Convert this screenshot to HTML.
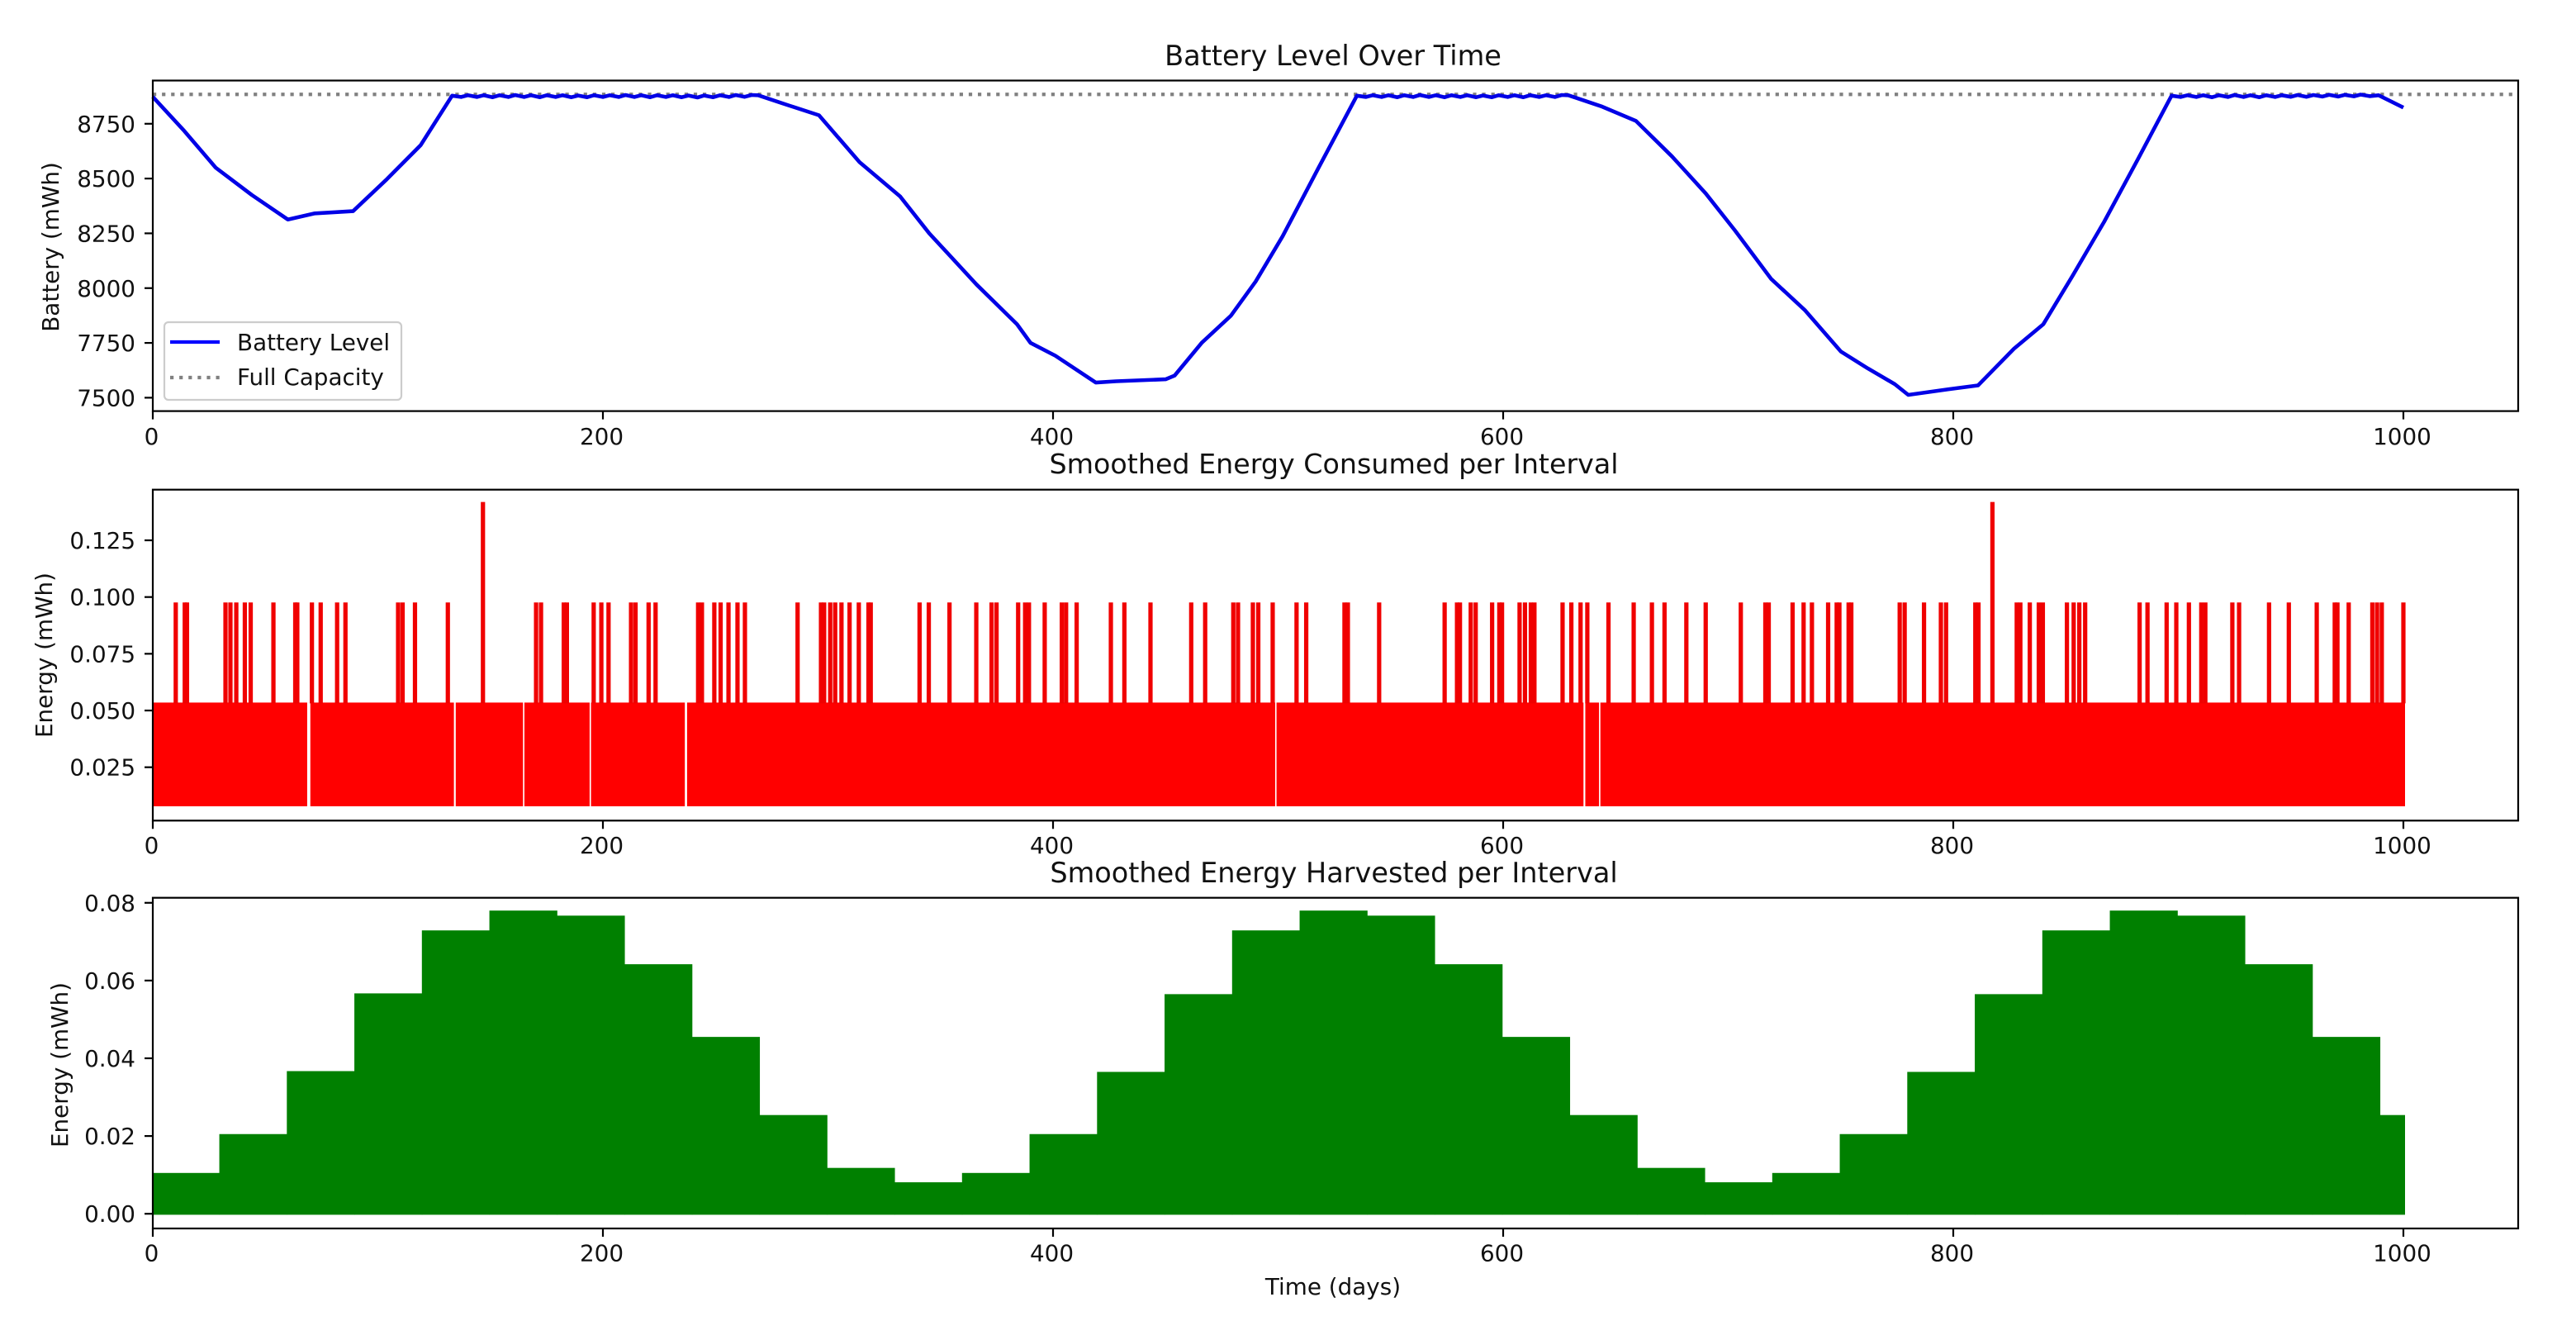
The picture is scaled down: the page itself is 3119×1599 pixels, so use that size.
<!DOCTYPE html>
<html lang="en">
<head>
<meta charset="utf-8">
<title>Battery, consumption and harvest over time</title>
<style>
html,body{margin:0;padding:0;background:#fff;}
svg{display:block;}
text{font-family:"DejaVu Sans","Liberation Sans",sans-serif;fill:#111;}
</style>
</head>
<body>
<svg id="figure" xmlns="http://www.w3.org/2000/svg" width="3119" height="1599" viewBox="0 0 3119 1599">
  <rect x="0" y="0" width="3119" height="1599" fill="#ffffff"/>
  <g id="battery-marks"></g>
  <g id="consumed-marks"></g>
  <g id="harvest-marks"></g>
  <g id="axes-layer"></g>

  <text x="1614" y="79" font-size="33.6" text-anchor="middle">Battery Level Over Time</text>
  <text x="1615" y="573" font-size="33.3" text-anchor="middle">Smoothed Energy Consumed per Interval</text>
  <text x="1615" y="1068" font-size="33.5" text-anchor="middle">Smoothed Energy Harvested per Interval</text>

  <text transform="translate(71,299) rotate(-90)" font-size="27.8" text-anchor="middle">Battery (mWh)</text>
  <text transform="translate(63,793) rotate(-90)" font-size="27.8" text-anchor="middle">Energy (mWh)</text>
  <text transform="translate(82,1289) rotate(-90)" font-size="27.8" text-anchor="middle">Energy (mWh)</text>
  <text x="1614" y="1567" font-size="27.8" text-anchor="middle">Time (days)</text>

  <g>
    <rect x="199" y="390" width="287" height="94" rx="5" ry="5" fill="#ffffff" fill-opacity="0.8" stroke="#cccccc" stroke-width="2.2"/>
    <line x1="206" y1="414" x2="266" y2="414" stroke="#0000ff" stroke-width="4.2"/>
    <text x="287" y="424" font-size="27.8">Battery Level</text>
    <line x1="206" y1="457" x2="266" y2="457" stroke="#808080" stroke-width="4.2" stroke-dasharray="4.2 6.9"/>
    <text x="287" y="466" font-size="27.8">Full Capacity</text>
  </g>
</svg>

<script>
// ---- chart data ----
const xTickValues = [0, 200, 400, 600, 800, 1000];
const xTickLabels = ["0", "200", "400", "600", "800", "1000"];

const batteryTickValues = [7500, 7750, 8000, 8250, 8500, 8750];
const batteryTickLabels = ["7500", "7750", "8000", "8250", "8500", "8750"];
const consumedTickValues = [0.025, 0.05, 0.075, 0.1, 0.125];
const consumedTickLabels = ["0.025", "0.050", "0.075", "0.100", "0.125"];
const harvestTickValues = [0, 0.02, 0.04, 0.06, 0.08];
const harvestTickLabels = ["0.00", "0.02", "0.04", "0.06", "0.08"];

const fullCapacity = [8884];

const batteryDays = [0, 14, 28, 44, 60, 72, 89, 104, 119, 133,
  137, 140, 144, 147, 151, 154, 158, 161, 165, 168, 172, 175, 179, 182, 186, 189, 193, 196, 200, 203, 207, 210, 214, 217, 221, 224, 228, 231, 235, 238, 242, 245, 249, 252, 256, 259, 263, 266, 269,
  283, 296, 314, 332, 345, 366, 384, 390, 401, 419, 428, 450, 454, 466, 479, 490, 502, 518, 535,
  539, 542, 546, 549, 553, 556, 560, 563, 567, 570, 574, 577, 581, 584, 588, 591, 595, 598, 602, 605, 609, 612, 616, 619, 623, 626, 629,
  644, 659, 675, 690, 703, 719, 734, 750, 762, 774, 780, 798, 811, 827, 840, 853, 867, 882, 897,
  901, 904, 908, 911, 915, 918, 922, 925, 929, 932, 936, 939, 943, 946, 950, 953, 957, 960, 964, 967, 971, 974, 978, 981, 985, 989, 1000];
const batteryValues = [8873, 8717, 8549, 8425, 8313, 8341, 8351, 8497, 8652, 8878,
  8872, 8880, 8872, 8880, 8871, 8880, 8872, 8881, 8872, 8880, 8871, 8880, 8872, 8880, 8871, 8879, 8871, 8880, 8872, 8880, 8872, 8881, 8872, 8880, 8871, 8880, 8872, 8880, 8871, 8879, 8870, 8879, 8871, 8880, 8872, 8881, 8873, 8881, 8880,
  8832, 8789, 8575, 8419, 8250, 8017, 7835, 7750, 7692, 7569, 7575, 7584, 7601, 7750, 7874, 8030, 8237, 8549, 8878,
  8872, 8880, 8872, 8880, 8871, 8880, 8872, 8881, 8872, 8880, 8871, 8880, 8872, 8880, 8871, 8879, 8871, 8880, 8872, 8880, 8871, 8880, 8872, 8880, 8872, 8881, 8880,
  8828, 8763, 8601, 8432, 8263, 8043, 7900, 7711, 7634, 7562, 7513, 7539, 7556, 7724, 7835, 8056, 8302, 8588, 8878,
  8872, 8880, 8872, 8880, 8871, 8880, 8872, 8881, 8872, 8880, 8871, 8880, 8872, 8880, 8873, 8881, 8873, 8881, 8874, 8882, 8874, 8882, 8875, 8883, 8876, 8880, 8824];

const consumedBaseLow = [0.0078];
const consumedBaseHigh = [0.0535];
const consumedGapStarts = [68.6, 133.8, 164.5, 194.1, 236.4, 498.7, 635.7, 642.6];
const consumedGapEnds = [70.0, 134.6, 165.1, 194.7, 237.4, 499.3, 636.5, 643.2];
const shortSpikeLevel = [0.0976];
const shortSpikeDays = [10.2, 14.2, 15.2, 32.3, 34.5, 37.1, 40.9, 43.5, 53.6, 63.3, 64.2, 70.7, 74.6, 81.9, 85.6, 109, 111, 116.5, 131.1,
  170.3, 172.5, 182.6, 184, 195.9, 199.3, 202.5, 212.5, 214.5, 220.3, 223.4, 242.3, 244, 249.5, 252.3, 255.8, 259.8, 263.1, 286.5,
  296.9, 298.3, 301, 303.2, 306, 309.6, 313.7, 318, 319, 340.7, 344.8, 354, 365.9, 372.7, 374.9, 384.5, 387.6, 389.3, 396.3, 403.9, 405.8,
  410.5, 425.7, 431.7, 443.3, 461.4, 467.6, 480.1, 482.2, 488.8, 491.2, 497.6, 508.2, 512.5, 529.5, 531, 544.9, 574, 579.5, 580.8,
  585.6, 587.8, 595.1, 598.3, 599.5, 607.3, 609.7, 612.3, 613.9, 626.4, 630.3, 634.4, 637.4, 646.8, 658, 666.1, 671.7, 681.4, 690,
  705.6, 716.5, 718, 728.6, 733.5, 737.2, 744.4, 748.2, 749.4, 753.5, 754.7, 776.2, 778.4, 787, 794.5, 796.8, 809.8, 811.2,
  828.2, 829.8, 834, 838, 839.8, 850.5, 853.5, 856, 858.6, 882.8, 886.3, 894.8, 899.1, 904.7, 910.2, 912, 924, 927, 940.3, 949.1,
  961.5, 969.5, 970.7, 975.7, 986.2, 988.3, 990.4, 1000];
const tallSpikeLevel = [0.1419];
const tallSpikeDays = [146.7, 817.4];

const harvestStepDays = [30];
const harvestValues = [0.0105, 0.0205, 0.0367, 0.0567, 0.0729, 0.0780, 0.0767, 0.0642, 0.0455, 0.0254, 0.0118, 0.0081,
  0.0105, 0.0205, 0.0365, 0.0565, 0.0729, 0.0780, 0.0767, 0.0642, 0.0455, 0.0254, 0.0118, 0.0081,
  0.0105, 0.0205, 0.0365, 0.0565, 0.0729, 0.0780, 0.0767, 0.0642, 0.0455, 0.0254];
const seriesEndDay = [1000];

// ---- axis functions ----
function xAxis(day) { return 185 + day * 2.725; }
function yBattery(v) { return 481.4 - (v - 7500) * (66.32 / 250); }
function yConsumed(v) { return 928.7 - (v - 0.025) * (68.67 / 0.025); }
function yHarvest(v) { return 1469.2 - v * (94.1 / 0.02); }

const SVG_NS = "http://www.w3.org/2000/svg";
function make(parent, tag, attrs) {
  const el = document.createElementNS(SVG_NS, tag);
  for (const key in attrs) el.setAttribute(key, attrs[key]);
  parent.appendChild(el);
  return el;
}

// ---- battery panel ----
const batteryLayer = document.getElementById("battery-marks");
const capacityLine = make(batteryLayer, "line", {
  x1: xAxis(0), x2: 3049, y1: yBattery(fullCapacity[0]), y2: yBattery(fullCapacity[0]),
  stroke: "#808080", "stroke-width": 4.2, "stroke-dasharray": "4.2 6.9"
});



const batteryPoints = batteryDays.map(function (d, i) {
  return xAxis(d).toFixed(1) + "," + yBattery(batteryValues[i]).toFixed(1);
}).join(" ");
const batteryLine = make(batteryLayer, "polyline", {
  points: batteryPoints, fill: "none", stroke: "#0000e6", "stroke-width": 4.6, "stroke-linejoin": "round"
});



// ---- consumed panel ----
const consumedLayer = document.getElementById("consumed-marks");
let segmentStart = 0;
for (let i = 0; i <= consumedGapStarts.length; i++) {
  const segmentEnd = i < consumedGapStarts.length ? consumedGapStarts[i] : seriesEndDay[0];
  const padRight = i < consumedGapStarts.length ? 0 : 2;
  const segment = make(consumedLayer, "rect", {
    x: xAxis(segmentStart),
    y: yConsumed(consumedBaseHigh[0]),
    width: xAxis(segmentEnd) - xAxis(segmentStart) + padRight,
    height: yConsumed(consumedBaseLow[0]) - yConsumed(consumedBaseHigh[0]),
    fill: "#ff0000"
  });
  
  
  if (i < consumedGapEnds.length) segmentStart = consumedGapEnds[i];
}
function drawSpikes(days, level) {
  days.forEach(function (d) {
    const spike = make(consumedLayer, "line", {
      x1: xAxis(d), x2: xAxis(d), y1: yConsumed(consumedBaseHigh[0]) + 1, y2: yConsumed(level),
      stroke: "#f00000", "stroke-width": 5.2
    });
    
    
  });
}
drawSpikes(shortSpikeDays, shortSpikeLevel[0]);
drawSpikes(tallSpikeDays, tallSpikeLevel[0]);

// ---- harvest panel ----
const harvestLayer = document.getElementById("harvest-marks");
harvestValues.forEach(function (v, i) {
  const startDay = i * harvestStepDays[0];
  const endDay = Math.min((i + 1) * harvestStepDays[0], seriesEndDay[0]);
  const isLast = endDay === seriesEndDay[0];
  const left = xAxis(startDay) - (i === 0 ? 0 : 1.2);
  const right = xAxis(endDay) + (isLast ? 2 : -0.7);
  const step = make(harvestLayer, "rect", {
    x: left,
    y: yHarvest(v),
    width: right - left,
    height: yHarvest(0) + 1.2 - yHarvest(v),
    fill: "#008000"
  });
  
  
});

// ---- axes ----
const axesLayer = document.getElementById("axes-layer");
const panelFrames = [
  { name: "battery", top: 97.5, bottom: 497.6, values: batteryTickValues, labels: batteryTickLabels, y: yBattery, xBase: 538 },
  { name: "consumed", top: 592.7, bottom: 993.3, values: consumedTickValues, labels: consumedTickLabels, y: yConsumed, xBase: 1033 },
  { name: "harvest", top: 1086.7, bottom: 1487, values: harvestTickValues, labels: harvestTickLabels, y: yHarvest, xBase: 1526.5 }
];
panelFrames.forEach(function (panel) {
  const frame = make(axesLayer, "rect", {
    x: 185, y: panel.top, width: 3049 - 185, height: panel.bottom - panel.top,
    fill: "none", stroke: "#000000", "stroke-width": 2.2
  });
  
  

  xTickValues.forEach(function (v, i) {
    const tick = make(axesLayer, "line", {
      x1: xAxis(v), x2: xAxis(v), y1: panel.bottom, y2: panel.bottom + 10,
      stroke: "#000000", "stroke-width": 2.2
    });
    
    
    const label = make(axesLayer, "text", {
      x: xAxis(v) - 1.5, y: panel.xBase, "font-size": 27.8, "text-anchor": "middle"
    });
    label.textContent = xTickLabels[i];
    
    
  });

  panel.values.forEach(function (v, i) {
    const py = panel.y(v);
    const tick = make(axesLayer, "line", {
      x1: 175, x2: 185, y1: py, y2: py, stroke: "#000000", "stroke-width": 2.2
    });
    
    
    const label = make(axesLayer, "text", {
      x: 164, y: py + 10, "font-size": 27.8, "text-anchor": "end"
    });
    label.textContent = panel.labels[i];
    
    
  });
});
</script>
</body>
</html>
